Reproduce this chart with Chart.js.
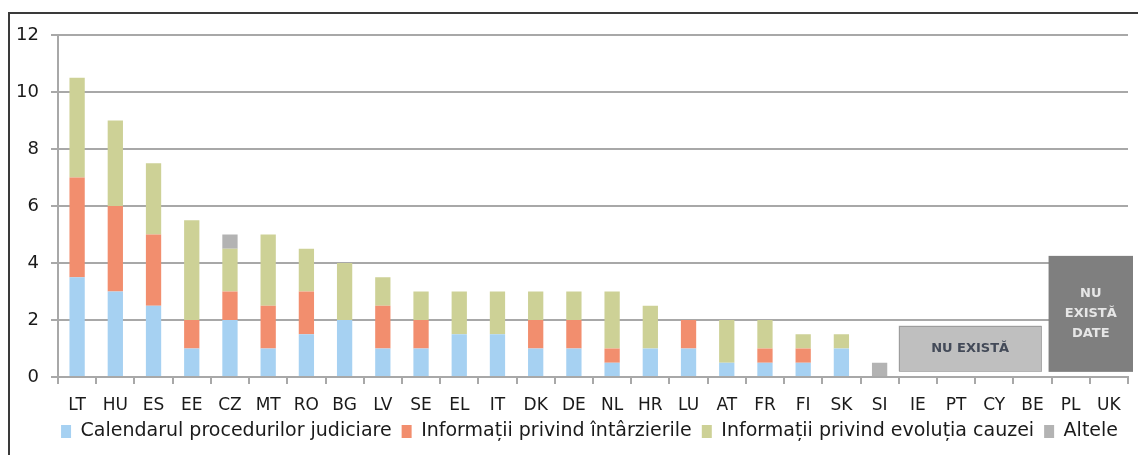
<!DOCTYPE html>
<html>
<head>
<meta charset="utf-8">
<script src="https://cdn.jsdelivr.net/npm/chart.js@4/dist/chart.umd.min.js"></script>
<style>
  html, body { margin: 0; padding: 0; background: #fff; overflow: hidden; }
  #frame { position: absolute; left: 8px; top: 12px; width: 2000px; height: 1000px;
           border-top: 2px solid #3a3a3a; border-left: 2px solid #3a3a3a; }
  #wrap { position: absolute; left: 0; top: 0; width: 1138px; height: 455px; }
</style>
</head>
<body>
<div id="frame"></div>
<div id="wrap"><canvas id="chart"></canvas></div>
<script>
const countries = ['LT','HU','ES','EE','CZ','MT','RO','BG','LV','SE','EL','IT','DK','DE','NL','HR','LU','AT','FR','FI','SK','SI','IE','PT','CY','BE','PL','UK'];
const calendar  = [3.5, 3, 2.5, 1, 2, 1, 1.5, 2, 1, 1, 1.5, 1.5, 1, 1, 0.5, 1, 1, 0.5, 0.5, 0.5, 1, 0, 0, 0, 0, 0, 0, 0];
const delays    = [3.5, 3, 2.5, 1, 1, 1.5, 1.5, 0, 1.5, 1, 0, 0, 1, 1, 0.5, 0, 1, 0, 0.5, 0.5, 0, 0, 0, 0, 0, 0, 0, 0];
const progress  = [3.5, 3, 2.5, 3.5, 1.5, 2.5, 1.5, 2, 1, 1, 1.5, 1.5, 1, 1, 2, 1.5, 0, 1.5, 1, 0.5, 0.5, 0, 0, 0, 0, 0, 0, 0];
const others    = [0, 0, 0, 0, 0.5, 0, 0, 0, 0, 0, 0, 0, 0, 0, 0, 0, 0, 0, 0, 0, 0, 0.5, 0, 0, 0, 0, 0, 0];
const seriesNames = ['Calendarul procedurilor judiciare', 'Informații privind întârzierile', 'Informații privind evoluția cauzei', 'Altele'];
const yTicks = [0, 2, 4, 6, 8, 10, 12];

// grey "no data" boxes over the empty countries
const noteBoxes = [
  { from: 'IE', to: 'BE', yFrom: 0.2, yTo: 1.8, lines: ['NU EXISTĂ'], dark: false },
  { from: 'PL', to: 'UK', yFrom: 0.18, yTo: 4.25, lines: ['NU', 'EXISTĂ', 'DATE'], dark: true }
];

const colors = ['#a6d1f2', '#f28e6e', '#cdd196', '#b3b3b3'];
const gridColor = '#a8a8a8';

const noteBoxPlugin = {
  id: 'noteBoxes',
  afterDatasetsDraw(chart) {
    const ctx = chart.ctx, x = chart.scales.x, y = chart.scales.y;
    const step = x.getPixelForValue(1) - x.getPixelForValue(0);
    noteBoxes.forEach(b => {
      let left = x.getPixelForValue(countries.indexOf(b.from)) - step / 2;
      let right = x.getPixelForValue(countries.indexOf(b.to)) + step / 2;
      if (b.dark) { left -= 3; right += 5; } else { right -= 10; }
      const top = y.getPixelForValue(b.yTo), bottom = y.getPixelForValue(b.yFrom);
      ctx.save();
      ctx.fillStyle = b.dark ? '#7f7f7f' : '#bfbfbf';
      ctx.fillRect(left, top, right - left, bottom - top);
      if (!b.dark) {
        ctx.strokeStyle = '#7a7a7a';
        ctx.lineWidth = 1;
        ctx.setLineDash([1, 1]);
        ctx.strokeRect(Math.round(left) + 0.5, Math.round(top) + 0.5, Math.round(right - left) - 1, Math.round(bottom - top) - 1);
      }
      ctx.fillStyle = b.dark ? '#e6e6e6' : '#434a58';
      ctx.font = 'bold 13px "DejaVu Sans"';
      ctx.textAlign = 'center';
      ctx.textBaseline = 'middle';
      const cx = (left + right) / 2, cy = (top + bottom) / 2, lh = 20;
      b.lines.forEach((t, i) => ctx.fillText(t, cx, cy + (i - (b.lines.length - 1) / 2) * lh));
      ctx.restore();
    });
  }
};

new Chart(document.getElementById('chart'), {
  type: 'bar',
  data: {
    labels: countries,
    datasets: [calendar, delays, progress, others].map((d, i) => ({
      label: seriesNames[i],
      data: d,
      backgroundColor: colors[i],
      borderWidth: 0,
      categoryPercentage: 1,
      barPercentage: 0.4
    }))
  },
  options: {
    responsive: true,
    maintainAspectRatio: false,
    animation: false,
    layout: { padding: { left: 0, right: 10, top: 35, bottom: 4 } },
    plugins: {
      tooltip: { enabled: false },
      legend: {
        position: 'bottom',
        align: 'end',
        labels: {
          boxWidth: 10, boxHeight: 13, padding: 10,
          color: '#1a1a1a',
          font: { family: 'DejaVu Sans', size: 19 }
        }
      }
    },
    scales: {
      x: {
        stacked: true,
        grid: { drawOnChartArea: false, tickLength: 7, color: gridColor, lineWidth: 2, offset: true },
        border: { color: gridColor, width: 2 },
        ticks: { color: '#1a1a1a', font: { family: 'DejaVu Sans', size: 17 }, padding: 11, maxRotation: 0, autoSkip: false },
        afterFit(s) { s.height = 35; }
      },
      y: {
        stacked: true,
        min: 0, max: 12,
        afterBuildTicks(s) { s.ticks = yTicks.map(v => ({ value: v })); },
        grid: { color: gridColor, lineWidth: 2, tickLength: 7 },
        border: { color: gridColor, width: 2 },
        ticks: { color: '#1a1a1a', font: { family: 'DejaVu Sans', size: 18 }, padding: 12 },
        afterFit(s) { s.width = 58; }
      }
    }
  },
  plugins: [noteBoxPlugin]
});
</script>
</body>
</html>
